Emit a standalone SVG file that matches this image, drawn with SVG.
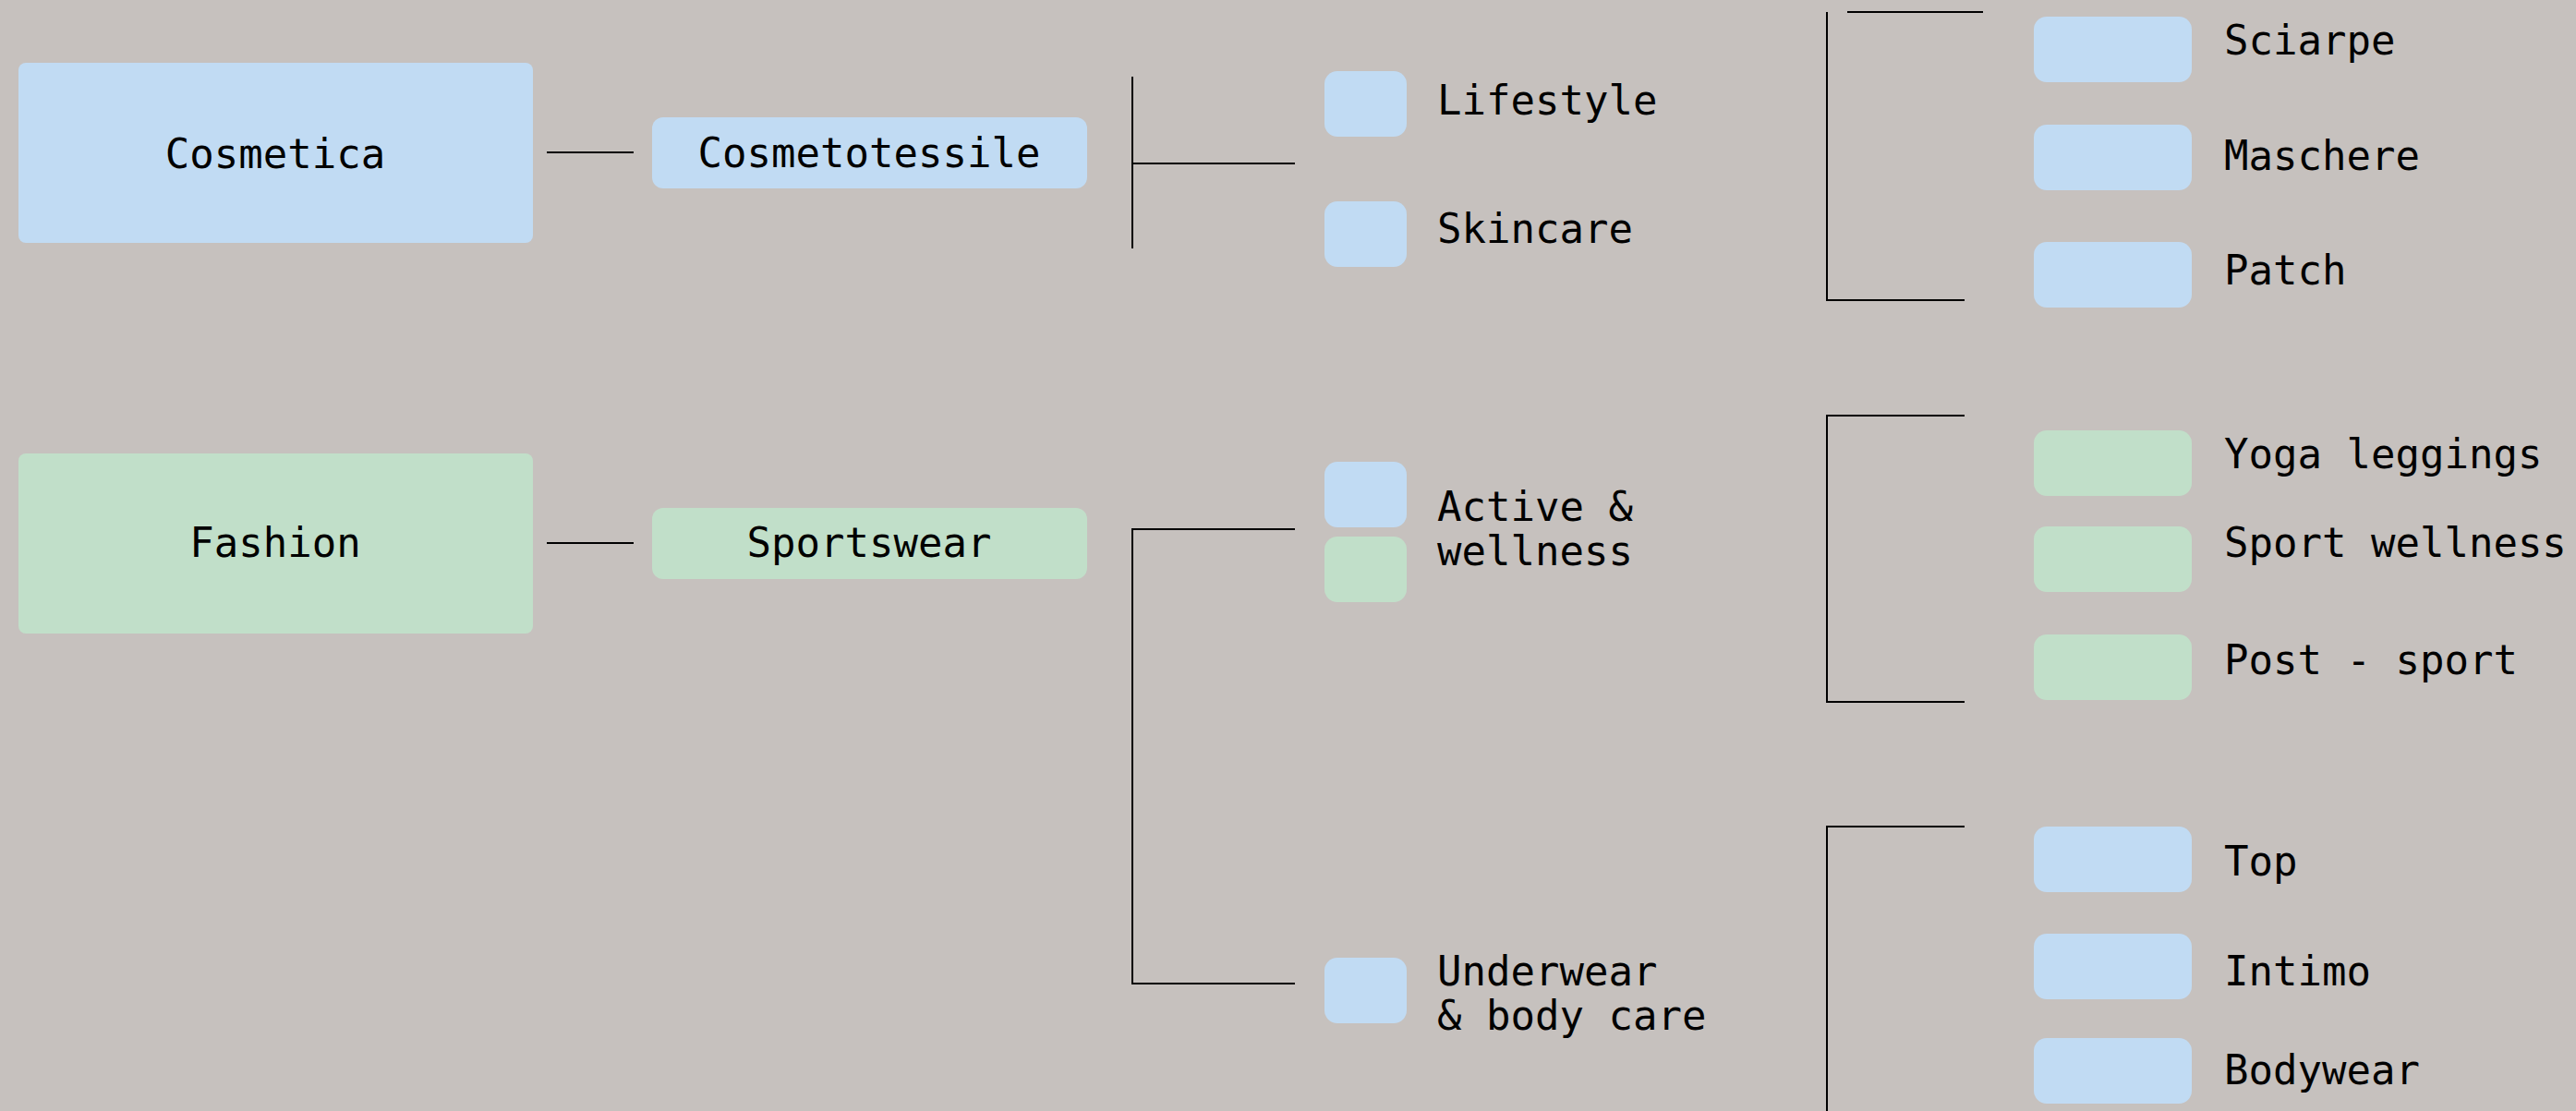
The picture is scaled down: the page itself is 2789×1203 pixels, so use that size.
<svg xmlns="http://www.w3.org/2000/svg" width="2789" height="1203" viewBox="0 0 2789 1203">
<style>
.bg{fill:#c6c1be}
.blue{fill:#c1dbf3}
.green{fill:#c1dfc9}
.t{font-family:"DejaVu Sans Mono","Liberation Mono",monospace;font-size:44px;fill:#000}
.c{text-anchor:middle}
.ln{stroke:#000;stroke-width:2;fill:none}
</style>
<rect class="bg" x="0" y="0" width="2789" height="1203"/>
<g id="connectors">
<line class="ln" x1="592" y1="165" x2="686" y2="165"/>
<line class="ln" x1="592" y1="588" x2="686" y2="588"/>
<line class="ln" x1="1226" y1="83" x2="1226" y2="269"/>
<line class="ln" x1="1226" y1="177" x2="1402" y2="177"/>
<path class="ln" d="M1402 573 H1226 V1065 H1402"/>
<line class="ln" x1="1978" y1="13" x2="1978" y2="326"/>
<line class="ln" x1="2000" y1="13" x2="2147" y2="13"/>
<line class="ln" x1="1978" y1="325" x2="2127" y2="325"/>
<path class="ln" d="M2127 450 H1978 V760 H2127"/>
<path class="ln" d="M2127 895 H1978 V1203"/>
</g>
<g id="cosmetica"><rect class="blue" x="20" y="68" width="557" height="195" rx="8"/><text class="t c" x="298" y="182">Cosmetica</text></g>
<g id="cosmetotessile"><rect class="blue" x="706" y="127" width="471" height="77" rx="12"/><text class="t c" x="941" y="181">Cosmetotessile</text></g>
<g id="fashion"><rect class="green" x="20" y="491" width="557" height="195" rx="8"/><text class="t c" x="298" y="603">Fashion</text></g>
<g id="sportswear"><rect class="green" x="706" y="550" width="471" height="77" rx="12"/><text class="t c" x="941" y="603">Sportswear</text></g>
<g id="lifestyle"><rect class="blue" x="1434" y="77" width="89" height="71" rx="14"/><text class="t" x="1556" y="124">Lifestyle</text></g>
<g id="skincare"><rect class="blue" x="1434" y="218" width="89" height="71" rx="14"/><text class="t" x="1556" y="263">Skincare</text></g>
<g id="active-wellness"><rect class="blue" x="1434" y="500" width="89" height="71" rx="14"/><rect class="green" x="1434" y="581" width="89" height="71" rx="14"/><text class="t" x="1556" y="564">Active &amp;</text><text class="t" x="1556" y="612">wellness</text></g>
<g id="underwear"><rect class="blue" x="1434" y="1037" width="89" height="71" rx="14"/><text class="t" x="1556" y="1067">Underwear</text><text class="t" x="1556" y="1115">&amp; body care</text></g>
<g id="sciarpe"><rect class="blue" x="2202" y="18" width="171" height="71" rx="14"/><text class="t" x="2408" y="59">Sciarpe</text></g>
<g id="maschere"><rect class="blue" x="2202" y="135" width="171" height="71" rx="14"/><text class="t" x="2408" y="184">Maschere</text></g>
<g id="patch"><rect class="blue" x="2202" y="262" width="171" height="71" rx="14"/><text class="t" x="2408" y="308">Patch</text></g>
<g id="yoga"><rect class="green" x="2202" y="466" width="171" height="71" rx="14"/><text class="t" x="2408" y="507">Yoga leggings</text></g>
<g id="sport-wellness"><rect class="green" x="2202" y="570" width="171" height="71" rx="14"/><text class="t" x="2408" y="603">Sport wellness</text></g>
<g id="post-sport"><rect class="green" x="2202" y="687" width="171" height="71" rx="14"/><text class="t" x="2408" y="730">Post - sport</text></g>
<g id="top"><rect class="blue" x="2202" y="895" width="171" height="71" rx="14"/><text class="t" x="2408" y="948">Top</text></g>
<g id="intimo"><rect class="blue" x="2202" y="1011" width="171" height="71" rx="14"/><text class="t" x="2408" y="1067">Intimo</text></g>
<g id="bodywear"><rect class="blue" x="2202" y="1124" width="171" height="71" rx="14"/><text class="t" x="2408" y="1174">Bodywear</text></g>
</svg>
